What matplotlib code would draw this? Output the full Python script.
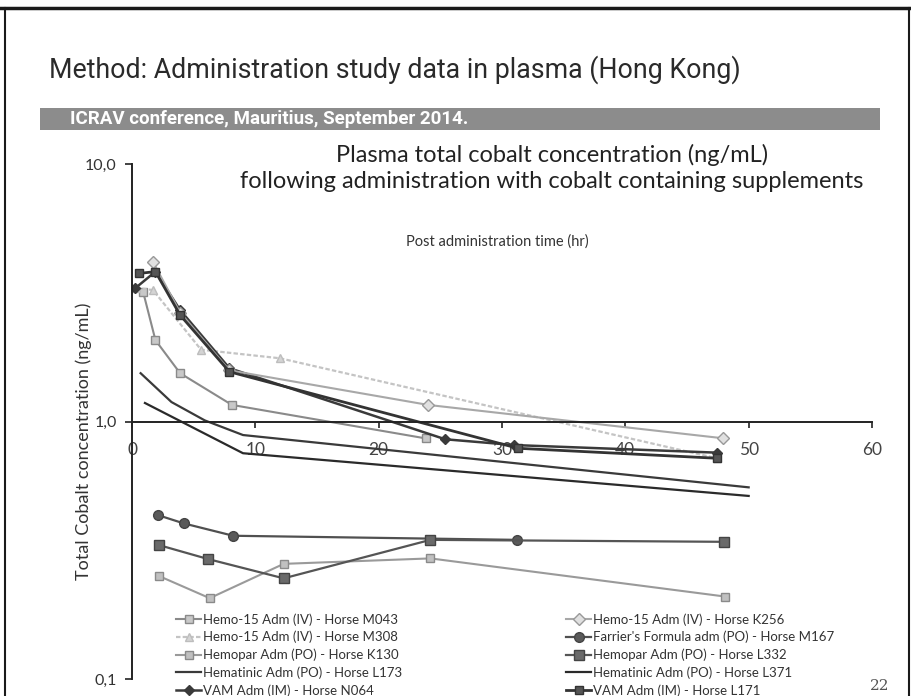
import numpy as np
import matplotlib
matplotlib.use("Agg")
from matplotlib import pyplot as plt
from matplotlib.ticker import NullLocator, FixedLocator, FixedFormatter
from matplotlib.patches import Rectangle
from matplotlib.lines import Line2D

# series (time in hr, cobalt in ng/mL)
t_m043 = [0.9, 1.9, 3.9, 8.1, 23.8]
v_m043 = [3.19, 2.07, 1.54, 1.16, 0.86]
t_m308 = [0.3, 1.7, 5.6, 12.0, 47.4]
v_m308 = [3.3, 3.24, 1.90, 1.76, 0.72]
t_k130 = [2.2, 6.3, 12.3, 24.2, 48.1]
v_k130 = [0.251, 0.206, 0.280, 0.294, 0.209]
t_l173 = [0.7, 3.2, 5.9, 9.0, 50.0]
v_l173 = [1.54, 1.19, 1.01, 0.886, 0.555]
t_n064 = [0.25, 1.9, 3.9, 7.9, 25.4, 31.0, 47.4]
v_n064 = [3.29, 3.82, 2.71, 1.61, 0.853, 0.81, 0.757]
t_k256 = [1.7, 3.9, 7.9, 24.0, 47.9]
v_k256 = [4.17, 2.65, 1.58, 1.16, 0.861]
t_m167 = [2.1, 4.2, 8.2, 31.2]
v_m167 = [0.433, 0.402, 0.360, 0.347]
t_l332 = [2.2, 6.2, 12.3, 24.2, 48.0]
v_l332 = [0.331, 0.292, 0.246, 0.347, 0.341]
t_l371 = [1.05, 9.0, 50.0]
v_l371 = [1.18, 0.753, 0.514]
t_l171 = [0.6, 1.9, 3.9, 7.9, 31.3, 47.4]
v_l171 = [3.76, 3.82, 2.59, 1.56, 0.787, 0.72]

x_ticks = [0, 10, 20, 30, 40, 50, 60]
y_ticks = [0.1, 1, 10]
y_tick_labels = ["0,1", "1,0", "10,0"]

W, H = 912, 696
fig = plt.figure(figsize=(W / 100, H / 100), dpi=100)
fig.patch.set_facecolor("white")

def fx(px):
    return px / W

def fy(py):
    return 1 - py / H

# slide frame
fig.add_artist(Line2D([0, 1], [fy(8), fy(8)], color="#1a1a1a", lw=2.5))
fig.add_artist(Line2D([fx(5), fx(5)], [0, fy(8)], color="#1a1a1a", lw=1.5))
fig.add_artist(Line2D([fx(909), fx(909)], [0, fy(8)], color="#1a1a1a", lw=1.5))

narrow = ["Liberation Sans Narrow", "Roboto", "DejaVu Sans"]
body = ["Lato", "DejaVu Sans"]

fig.text(fx(49), fy(70), "Method: Administration study data in plasma (Hong Kong)",
         family=narrow, fontsize=19.3, color="#2a2a2a", ha="left", va="center")

fig.add_artist(Rectangle((fx(40), fy(130)), fx(880) - fx(40), fy(108) - fy(130),
                         facecolor="#8c8c8c", edgecolor="none"))
fig.text(fx(70), fy(119), "ICRAV conference, Mauritius, September 2014.",
         family=narrow, fontsize=13.5, weight="bold", color="white",
         ha="left", va="center")

fig.text(fx(552), fy(155), "Plasma total cobalt concentration (ng/mL)",
         family=body, fontsize=17, color="#222222", ha="center", va="center")
fig.text(fx(552), fy(182), "following administration with cobalt containing supplements",
         family=body, fontsize=17, color="#222222", ha="center", va="center")
fig.text(fx(497), fy(242), "Post administration time (hr)",
         family=body, fontsize=10.5, color="#333333", ha="center", va="center")
fig.text(fx(84), fy(441), "Total Cobalt concentration (ng/mL)",
         family=body, fontsize=13, color="#333333", rotation=90,
         ha="center", va="center")
fig.text(fx(880), fy(686), "22", family=["DejaVu Serif"], fontsize=11,
         color="#555555", ha="center", va="center")

ax = fig.add_axes([fx(132), fy(679), fx(872) - fx(132), fy(164) - fy(679)])
ax.set_facecolor("none")
ax.set_yscale("log")
ax.set_xlim(0, 60)
ax.set_ylim(0.1, 10)

for s in ["top", "right"]:
    ax.spines[s].set_visible(False)
ax.spines["left"].set_linewidth(1.4)
ax.spines["left"].set_color("#222222")
ax.spines["bottom"].set_position(("data", 1.0))
ax.spines["bottom"].set_linewidth(1.4)
ax.spines["bottom"].set_color("#222222")

ax.xaxis.set_major_locator(FixedLocator(x_ticks))
ax.yaxis.set_major_locator(FixedLocator(y_ticks))
ax.yaxis.set_major_formatter(FixedFormatter(y_tick_labels))
ax.yaxis.set_minor_locator(NullLocator())
ax.tick_params(axis="x", direction="out", length=4, width=1.2, pad=11,
               labelsize=12.5, labelcolor="#444444", color="#222222")
ax.tick_params(axis="y", direction="out", length=5, width=1.2, pad=6,
               labelsize=11.5, labelcolor="#333333", color="#222222")
for lab in ax.get_xticklabels() + ax.get_yticklabels():
    lab.set_family(body)

h_m043, = ax.plot(t_m043, v_m043, "-s", color="#8a8a8a", lw=1.5, ms=6,
                  mfc="#c8c8c8", mec="#8a8a8a", label="Hemo-15 Adm (IV) - Horse M043")
h_m308, = ax.plot(t_m308, v_m308, "^", ls=(0, (2, 1)), color="#c4c4c4", lw=1.6, ms=6,
                  mfc="#d4d4d4", mec="#bdbdbd", label="Hemo-15 Adm (IV) - Horse M308")
h_k130, = ax.plot(t_k130, v_k130, "-s", color="#9a9a9a", lw=1.5, ms=6,
                  mfc="#c0c0c0", mec="#8a8a8a", label="Hemopar Adm (PO) - Horse K130")
h_l173, = ax.plot(t_l173, v_l173, "-", color="#3a3a3a", lw=1.6,
                  label="Hematinic Adm (PO) - Horse L173")
h_n064, = ax.plot(t_n064, v_n064, "-D", color="#3a3a3a", lw=1.8, ms=5,
                  mfc="#3a3a3a", mec="#3a3a3a", label="VAM Adm (IM) - Horse N064")
h_k256, = ax.plot(t_k256, v_k256, "-D", color="#a8a8a8", lw=1.5, ms=6,
                  mfc="#e0e0e0", mec="#999999", label="Hemo-15 Adm (IV) - Horse K256")
h_m167, = ax.plot(t_m167, v_m167, "-o", color="#505050", lw=1.6, ms=7,
                  mfc="#5a5a5a", mec="#444444", label="Farrier's Formula adm (PO) - Horse M167")
h_l332, = ax.plot(t_l332, v_l332, "-s", color="#555555", lw=1.6, ms=7,
                  mfc="#6a6a6a", mec="#444444", label="Hemopar Adm (PO) - Horse L332")
h_l371, = ax.plot(t_l371, v_l371, "-", color="#2a2a2a", lw=1.6,
                  label="Hematinic Adm (PO) - Horse L371")
h_l171, = ax.plot(t_l171, v_l171, "-s", color="#333333", lw=2.0, ms=6,
                  mfc="#555555", mec="#333333", label="VAM Adm (IM) - Horse L171")

col1 = [h_m043, h_m308, h_k130, h_l173, h_n064]
col2 = [h_k256, h_m167, h_l332, h_l371, h_l171]
for handles, x0 in [(col1, 176), (col2, 566)]:
    leg = fig.legend(handles=handles, loc="upper left",
                     bbox_to_anchor=(fx(x0), fy(613)), frameon=False,
                     prop={"family": body, "size": 9.5}, handlelength=1.9,
                     handletextpad=0.15, labelspacing=0.4, borderaxespad=0,
                     borderpad=0)
    for txt in leg.get_texts():
        txt.set_color("#333333")

fig.savefig("out.png", dpi=100)
